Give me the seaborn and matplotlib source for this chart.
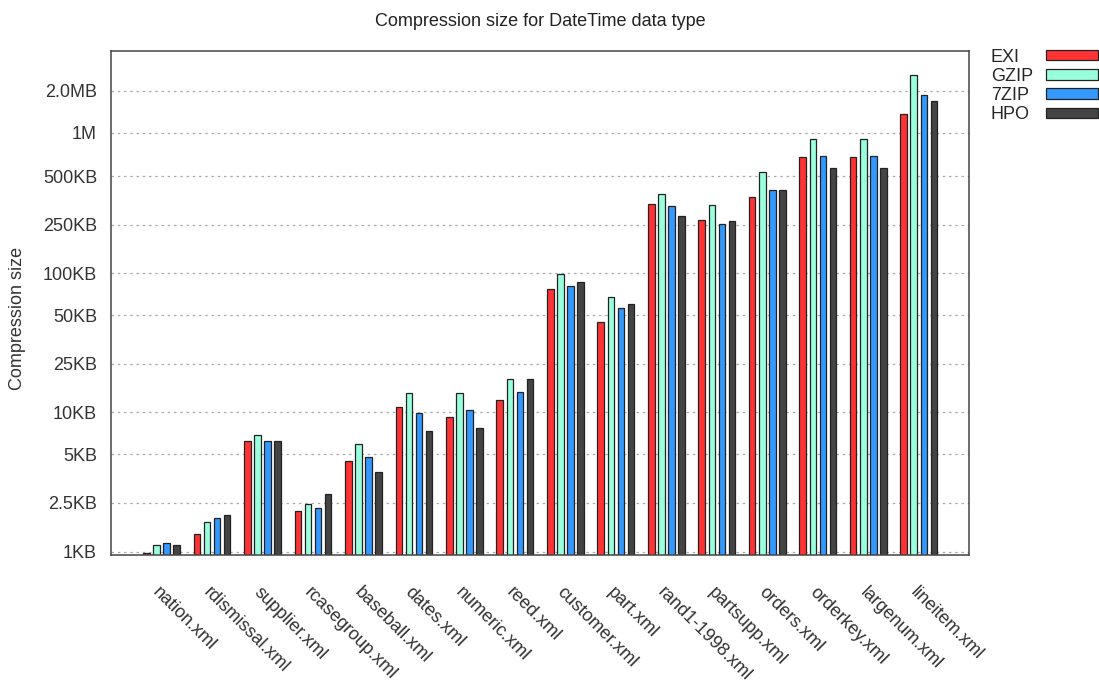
import numpy as np
import pandas as pd
import matplotlib
matplotlib.use("Agg")
import matplotlib.pyplot as plt
import seaborn as sns

# sizes in KB
files = ["nation.xml", "rdismissal.xml", "supplier.xml", "rcasegroup.xml",
         "baseball.xml", "dates.xml", "numeric.xml", "reed.xml",
         "customer.xml", "part.xml", "rand1-1998.xml", "partsupp.xml",
         "orders.xml", "orderkey.xml", "largenum.xml", "lineitem.xml"]
methods = ["EXI", "GZIP", "7ZIP", "HPO"]

exi = [0.97, 1.33, 6.2, 1.95, 4.5, 10.9, 9.3, 12.3,
       77, 44.5, 314, 243, 354, 687, 687, 1384]
gzip = [1.11, 1.64, 6.9, 2.21, 5.9, 13.7, 13.7, 17.3,
        99, 67, 369, 309, 530, 926, 926, 2680]
zip7 = [1.16, 1.73, 6.2, 2.06, 4.8, 9.9, 10.4, 14.0,
        81, 56, 303, 225, 398, 699, 699, 1906]
hpo = [1.11, 1.83, 6.2, 2.59, 3.7, 7.3, 7.7, 17.3,
       87, 60, 260, 236, 398, 571, 571, 1742]

ytick_vals = [1, 2.236, 5, 10, 22.36, 50, 100, 223.6, 500, 1024, 2048]
ytick_labels = ["1KB", "2.5KB", "5KB", "10KB", "25KB", "50KB", "100KB",
                "250KB", "500KB", "1M", "2.0MB"]

colors = {"EXI": "#ff3333", "GZIP": "#99ffdd", "7ZIP": "#3399ff", "HPO": "#444444"}

df = pd.DataFrame({
    "file": files * 4,
    "method": np.repeat(methods, len(files)),
    "size": exi + gzip + zip7 + hpo,
})

sns.set_style("white")
plt.rcParams["font.family"] = ["Liberation Sans", "DejaVu Sans"]

fig, ax = plt.subplots(figsize=(10.99, 6.85), dpi=100)
fig.subplots_adjust(left=0.101, right=0.882, top=0.9255, bottom=0.19)

sns.barplot(data=df, x="file", y="size", hue="method", hue_order=methods,
            order=files, palette=colors, errorbar=None, width=0.8, gap=0.35,
            edgecolor="#222222", linewidth=0.9, saturation=1, ax=ax)

ax.set_yscale("log")
ax.set_ylim(0.947, 3955)
ax.set_xlim(-1, len(files))
ax.set_yticks(ytick_vals)
ax.set_yticklabels(ytick_labels)
ax.minorticks_off()
ax.yaxis.grid(True, color="#aaaaaa", linestyle=(0, (2, 3)), linewidth=0.9)
ax.set_axisbelow(True)

ax.set_xticks(range(len(files)))
ax.set_xticklabels(files, rotation=-45, ha="left", va="top", rotation_mode="anchor")
ax.tick_params(axis="x", length=0, pad=21, labelsize=13, colors="#333333")
ax.tick_params(axis="y", length=0, pad=10, labelsize=13, colors="#333333")

for s in ax.spines.values():
    s.set_color("#444444")
    s.set_linewidth(1.1)

ax.set_xlabel("")
ax.set_ylabel("Compression size", fontsize=13, color="#333333")
ax.yaxis.set_label_coords(-0.099, 0.47)
ax.set_title("Compression size for DateTime data type", fontsize=13,
             color="#222222", pad=18)

handles, labels = ax.get_legend_handles_labels()
ax.get_legend().remove()
leg = fig.legend(handles, labels, loc="upper right", bbox_to_anchor=(0.999, 0.929),
                 frameon=False, markerfirst=False, fontsize=13, handlelength=2.85,
                 handleheight=0.5, handletextpad=0.8, labelspacing=0.12,
                 borderpad=0, borderaxespad=0)
# gnuplot style: labels flush left, swatches flush right (width in pixels)
col = leg._legend_handle_box.get_children()[0]
col.width = 107
for row in col.get_children():
    row.mode = "expand"

fig.savefig("out.png", dpi=100)
